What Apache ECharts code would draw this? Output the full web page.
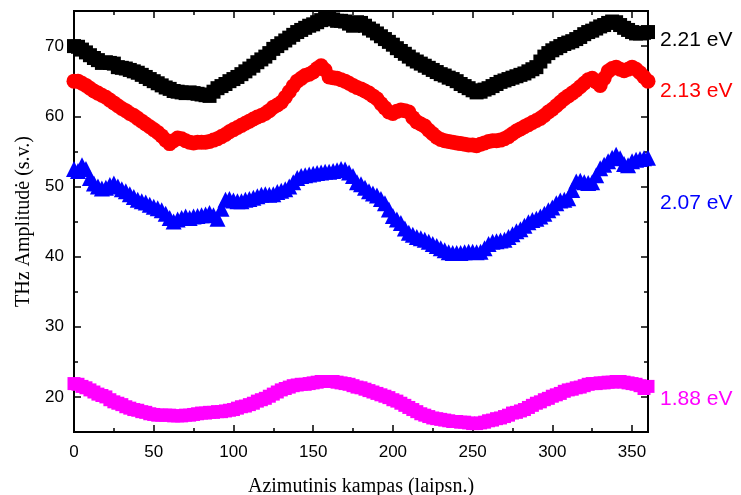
<!DOCTYPE html>
<html>
<head>
<meta charset="utf-8">
<script src="https://cdn.jsdelivr.net/npm/echarts@6/dist/echarts.min.js"></script>
<style>
  html, body { margin: 0; padding: 0; background: #fff; }
  #chart { width: 741px; height: 495px; }
</style>
</head>
<body>
<div id="chart"></div>
<script>
// Azimuthal angle (degrees), sampled every 2.5 degrees
const angles = [];
for (let i = 0; i <= 144; i++) angles.push(i * 2.5);

// THz amplitude for each photon energy
const amp221 = [
  70.0,69.9,69.5,69.1,68.7,68.3,68.0,67.6,67.7,67.6,
  67.5,67.0,66.9,66.8,66.6,66.4,66.2,65.9,65.6,65.3,
  65.0,64.7,64.4,64.1,63.9,63.6,63.5,63.4,63.3,63.4,
  63.3,63.2,63.1,63.0,62.9,63.5,64.0,64.3,64.6,65.0,
  65.3,65.6,66.0,66.4,66.8,67.2,67.7,68.1,68.5,69.0,
  69.6,70.0,70.4,70.8,71.2,71.6,72.0,72.3,72.6,72.9,
  73.1,73.4,73.7,73.9,73.9,73.8,73.6,73.6,73.5,73.2,
  72.9,73.4,73.3,72.9,72.5,72.2,71.8,71.4,71.0,70.6,
  70.2,69.7,69.3,68.9,68.5,68.1,67.8,67.5,67.2,66.9,
  66.6,66.3,66.0,65.8,65.5,65.3,65.0,64.6,64.3,64.0,
  63.7,63.4,63.5,63.8,64.0,64.3,64.6,64.9,65.1,65.3,
  65.5,65.7,65.9,66.1,66.4,66.7,67.0,67.8,68.5,69.0,
  69.4,69.7,70.0,70.3,70.5,70.7,71.0,71.3,71.7,72.0,
  72.2,72.5,72.8,73.0,73.3,73.5,73.4,73.0,72.6,72.3,
  72.0,71.8,71.8,71.9,72.0];
const amp213 = [
  65.0,65.0,64.7,64.4,64.0,63.6,63.3,63.0,62.7,62.3,
  61.9,61.5,61.1,60.8,60.4,60.1,59.7,59.3,58.9,58.5,
  58.1,57.7,57.2,56.6,56.1,56.5,56.9,56.8,56.5,56.3,
  56.2,56.3,56.3,56.3,56.4,56.6,56.8,57.1,57.4,57.8,
  58.1,58.4,58.7,59.0,59.3,59.6,59.9,60.1,60.4,60.8,
  61.3,61.6,62.0,62.7,63.5,64.3,65.0,65.4,65.8,66.0,
  66.3,66.8,67.2,66.6,65.6,65.5,65.4,65.2,65.0,64.7,
  64.4,64.1,63.9,63.6,63.3,62.9,62.5,61.8,61.2,60.6,
  60.4,60.7,60.9,60.8,60.6,59.8,59.2,58.9,58.6,58.0,
  57.5,57.0,56.7,56.5,56.4,56.3,56.2,56.1,56.0,55.9,
  55.9,55.8,56.0,56.2,56.4,56.5,56.5,56.6,56.8,57.1,
  57.5,57.9,58.2,58.5,58.8,59.1,59.4,59.7,60.1,60.6,
  61.0,61.5,62.0,62.5,62.9,63.3,63.7,64.2,64.7,65.2,
  65.4,64.9,64.4,65.4,66.4,66.8,67.0,66.7,66.5,66.7,
  67.0,66.7,66.2,65.6,65.0];
const amp207 = [
  52.5,52.2,53.0,52.5,51.2,50.4,50.0,49.7,49.8,50.2,
  50.4,50.0,49.6,49.3,48.9,48.5,48.1,47.9,47.7,47.4,
  47.1,46.9,46.6,46.1,45.5,45.0,45.3,45.5,45.7,45.5,
  45.7,45.8,45.9,46.0,46.2,45.9,45.4,46.8,48.1,48.2,
  48.0,47.9,47.9,48.1,48.2,48.4,48.6,48.8,48.9,48.8,
  48.9,49.2,49.4,49.6,50.0,50.6,51.2,51.5,51.6,51.7,
  51.8,51.9,52.0,52.1,52.1,52.2,52.3,52.5,52.4,52.0,
  51.5,50.6,50.3,49.8,49.3,49.0,48.7,48.2,47.6,46.7,
  45.8,45.3,44.8,44.0,43.4,43.1,42.8,42.6,42.4,42.1,
  41.8,41.5,41.2,40.9,40.6,40.5,40.5,40.5,40.6,40.7,
  40.7,40.6,40.7,41.2,41.8,42.1,42.2,42.3,42.4,42.8,
  43.2,43.6,43.9,44.4,44.9,45.2,45.4,45.7,46.1,46.6,
  47.0,47.6,48.0,48.1,48.3,49.5,50.7,50.8,50.6,50.5,
  50.6,51.6,52.6,53.1,53.6,54.1,54.5,54.0,53.2,53.0,
  53.6,53.8,53.9,54.0,54.1];
const amp188 = [
  21.9,21.8,21.5,21.3,21.0,20.7,20.4,20.2,20.0,19.6,
  19.3,19.1,18.9,18.6,18.4,18.2,18.1,17.9,17.8,17.6,
  17.5,17.4,17.4,17.4,17.4,17.3,17.3,17.3,17.4,17.4,
  17.5,17.6,17.7,17.7,17.8,17.8,17.9,17.9,18.0,18.1,
  18.2,18.4,18.6,18.7,18.9,19.1,19.4,19.6,19.8,20.1,
  20.4,20.7,21.0,21.2,21.4,21.6,21.7,21.8,21.8,21.9,
  22.0,22.1,22.2,22.2,22.2,22.2,22.1,22.0,21.9,21.8,
  21.6,21.4,21.3,21.1,20.9,20.7,20.5,20.3,20.1,19.9,
  19.6,19.4,19.1,18.8,18.5,18.2,17.9,17.6,17.4,17.2,
  17.0,16.9,16.8,16.7,16.6,16.5,16.5,16.4,16.4,16.3,
  16.2,16.2,16.3,16.4,16.6,16.7,16.9,17.0,17.2,17.4,
  17.7,17.8,18.0,18.2,18.5,18.8,19.1,19.3,19.6,19.8,
  20.1,20.3,20.5,20.8,21.0,21.1,21.3,21.4,21.6,21.8,
  21.9,21.9,22.0,22.0,22.1,22.1,22.2,22.2,22.1,22.0,
  21.9,21.8,21.6,21.2,21.5];

// Tick values
const xMajor = [0, 50, 100, 150, 200, 250, 300, 350];
const xMinor = [25, 75, 125, 175, 225, 275, 325];
const yMajor = [20, 30, 40, 50, 60, 70];
const yMinor = [25, 35, 45, 55, 65];

// Series labels (photon energy)
const energyLabels = ['2.21 eV', '2.13 eV', '2.07 eV', '1.88 eV'];

const pairs = vals => angles.map((a, i) => [a, vals[i]]);

const sansFont = 'Liberation Sans, Arial, sans-serif';
const serifFont = 'Liberation Serif, Times New Roman, serif';

function frameAxis(kind, position, ticks, len, labels, extra) {
  const ax = {
    type: 'value',
    position: position,
    min: kind === 'x' ? 0 : 15,
    max: kind === 'x' ? 360 : 75,
    axisLine: { show: true, onZero: false, lineStyle: { color: '#000', width: 2 } },
    axisTick: { show: true, inside: true, length: len, customValues: ticks, lineStyle: { color: '#000', width: 1.5 } },
    axisLabel: labels
      ? { show: true, customValues: ticks, color: '#000', fontSize: 17, fontFamily: sansFont, margin: kind === 'x' ? 12 : 10 }
      : { show: false },
    splitLine: { show: false }
  };
  return Object.assign(ax, extra || {});
}

const chart = echarts.init(document.getElementById('chart'), null, { renderer: 'canvas' });

chart.setOption({
  animation: false,
  backgroundColor: '#fff',
  grid: { left: 74, right: 93, top: 11, bottom: 63, containLabel: false, outerBoundsMode: 'none' },
  xAxis: [
    frameAxis('x', 'bottom', xMajor, 7, true, {
      name: 'Azimutinis kampas (laipsn.)',
      nameLocation: 'middle',
      nameGap: 45,
      nameTextStyle: { color: '#000', fontSize: 20, fontFamily: serifFont }
    }),
    frameAxis('x', 'bottom', xMinor, 4, false),
    frameAxis('x', 'top', xMajor, 7, false),
    frameAxis('x', 'top', xMinor, 4, false)
  ],
  yAxis: [
    frameAxis('y', 'left', yMajor, 7, true, {
      name: 'THz Amplitudė (s.v.)',
      nameLocation: 'middle',
      nameGap: 40,
      nameTextStyle: { color: '#000', fontSize: 20, fontFamily: serifFont }
    }),
    frameAxis('y', 'left', yMinor, 4, false),
    frameAxis('y', 'right', yMajor, 7, false),
    frameAxis('y', 'right', yMinor, 4, false)
  ],
  series: [
    { type: 'scatter', data: pairs(amp188), symbol: 'rect', symbolSize: 13, itemStyle: { color: '#ff00ff', opacity: 1 } },
    { type: 'scatter', data: pairs(amp207), symbol: 'triangle', symbolSize: 16, itemStyle: { color: '#0000ff', opacity: 1 } },
    { type: 'scatter', data: pairs(amp213), symbol: 'circle', symbolSize: 15, itemStyle: { color: '#ff0000', opacity: 1 } },
    { type: 'scatter', data: pairs(amp221), symbol: 'rect', symbolSize: 14, itemStyle: { color: '#000000', opacity: 1 } }
  ],
  graphic: [
    { type: 'text', left: 660, top: 30, style: { text: energyLabels[0], fill: '#000000', font: '21px ' + sansFont } },
    { type: 'text', left: 660, top: 81, style: { text: energyLabels[1], fill: '#ff0000', font: '21px ' + sansFont } },
    { type: 'text', left: 660, top: 193, style: { text: energyLabels[2], fill: '#0000ff', font: '21px ' + sansFont } },
    { type: 'text', left: 660, top: 389, style: { text: energyLabels[3], fill: '#ff00ff', font: '21px ' + sansFont } }
  ]
});
</script>
</body>
</html>
